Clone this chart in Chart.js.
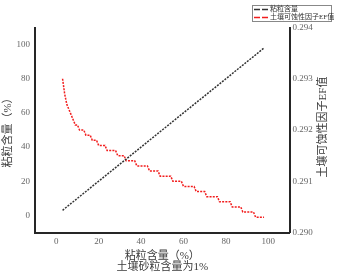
<!DOCTYPE html>
<html><head><meta charset="utf-8">
<script src="https://cdn.jsdelivr.net/npm/chart.js@4/dist/chart.umd.min.js"></script>
<style>html,body{margin:0;padding:0;background:#fff;}#wrap{position:relative;width:337px;height:276px;}</style>
</head><body><div id="wrap"><canvas id="c" width="337" height="276"></canvas></div>
<script>
const clayContent = [3,4,5,6,7,8,9,10,11,12,13,14,15,16,17,18,19,20,21,22,23,24,25,26,27,28,29,30,31,32,33,34,35,36,37,38,39,40,41,42,43,44,45,46,47,48,49,50,51,52,53,54,55,56,57,58,59,60,61,62,63,64,65,66,67,68,69,70,71,72,73,74,75,76,77,78,79,80,81,82,83,84,85,86,87,88,89,90,91,92,93,94,95,96,97,98];
const efValues = [0.2930,0.2927,0.2925,0.2924,0.2923,0.2922,0.2921,0.2921,0.2920,0.2920,0.2920,0.2919,0.2919,0.2919,0.2918,0.2918,0.2918,0.2917,0.2917,0.2917,0.2917,0.2916,0.2916,0.2916,0.2916,0.2916,0.2915,0.2915,0.2915,0.2915,0.2914,0.2914,0.2914,0.2914,0.2914,0.2913,0.2913,0.2913,0.2913,0.2913,0.2913,0.2912,0.2912,0.2912,0.2912,0.2912,0.2911,0.2911,0.2911,0.2911,0.2911,0.2911,0.2910,0.2910,0.2910,0.2910,0.2910,0.2909,0.2909,0.2909,0.2909,0.2909,0.2909,0.2908,0.2908,0.2908,0.2908,0.2908,0.2907,0.2907,0.2907,0.2907,0.2907,0.2907,0.2906,0.2906,0.2906,0.2906,0.2906,0.2906,0.2905,0.2905,0.2905,0.2905,0.2905,0.2904,0.2904,0.2904,0.2904,0.2904,0.2904,0.2903,0.2903,0.2903,0.2903,0.2903];
const xTicks = [0,20,40,60,80,100];
const leftTicks = [0,20,40,60,80,100];
const rightTicks = [0.290,0.291,0.292,0.293,0.294];
const seriesNames = ['粘粒含量','土壤可蚀性因子EF值'];
const xTitle = ['粘粒含量（%）','土壤砂粒含量为1%'];
const leftTitle = '粘粒含量（%）';
const rightTitle = '土壤可蚀性因子EF值';

const FONT = "'Liberation Serif','Noto Sans CJK SC',serif";
const tickColor = '#666';
const titleColor = '#3a3a3a';
const axisColor = '#262626';

const legendPlugin = {
  id: 'boxLegend',
  afterDraw(chart) {
    const ctx = chart.ctx;
    ctx.save();
    ctx.fillStyle = '#fff';
    ctx.fillRect(252, 5, 79.5, 16);
    ctx.strokeStyle = '#888';
    ctx.lineWidth = 1;
    ctx.setLineDash([]);
    ctx.strokeRect(252.5, 5.5, 79, 16);
    chart.data.datasets.forEach((ds, i) => {
      const y = 9.5 + i * 8;
      ctx.strokeStyle = ds.borderColor;
      ctx.lineWidth = 1.6;
      ctx.setLineDash([6, 2]);
      ctx.beginPath(); ctx.moveTo(254, y); ctx.lineTo(268, y); ctx.stroke();
      ctx.setLineDash([]);
      ctx.fillStyle = '#333';
      ctx.font = "7px 'Liberation Serif','Noto Sans CJK SC'";
      ctx.textBaseline = 'middle';
      ctx.textAlign = 'left';
      ctx.fillText(ds.label, 270, y);
    });
    ctx.restore();
  }
};

const rightTitlePlugin = {
  id: 'rightTitle',
  afterDraw(chart) {
    const ctx = chart.ctx;
    ctx.save();
    ctx.translate(323.5, 127);
    ctx.rotate(-Math.PI / 2);
    ctx.fillStyle = titleColor;
    ctx.font = "11px " + FONT;
    ctx.textAlign = 'center';
    ctx.textBaseline = 'middle';
    ctx.fillText(rightTitle, 0, 0);
    ctx.restore();
  }
};

new Chart(document.getElementById('c'), {
  type: 'line',
  data: {
    datasets: [
      {
        label: seriesNames[0],
        data: clayContent.map(c => ({x: c, y: c})),
        yAxisID: 'y',
        borderColor: '#333333',
        borderWidth: 1.5,
        borderDash: [2, 1.2],
        pointRadius: 0,
        fill: false,
        tension: 0
      },
      {
        label: seriesNames[1],
        data: clayContent.map((c, i) => ({x: c, y: efValues[i]})),
        yAxisID: 'y1',
        borderColor: '#f21d1d',
        borderWidth: 1.5,
        borderDash: [2, 1.2],
        pointRadius: 0,
        fill: false,
        tension: 0
      }
    ]
  },
  options: {
    responsive: false,
    animation: false,
    devicePixelRatio: 1,
    layout: {padding: {top: 27.5, left: 0, right: 0, bottom: 0}},
    plugins: {legend: {display: false}, tooltip: {enabled: false}, title: {display: false}},
    scales: {
      x: {
        type: 'linear', position: 'bottom', min: -10, max: 110,
        afterBuildTicks: s => { s.ticks = xTicks.map(v => ({value: v})); },
        afterFit: s => { s.height = 43.5; },
        grid: {display: false, drawTicks: false},
        border: {display: true, color: axisColor, width: 2},
        ticks: {color: tickColor, font: {family: FONT, size: 9}, padding: 4, maxRotation: 0},
        title: {display: true, text: xTitle, color: titleColor, font: {family: FONT, size: 11, lineHeight: 1.05}, padding: {top: 0, bottom: 3}}
      },
      y: {
        type: 'linear', position: 'left', min: -10, max: 110,
        afterBuildTicks: s => { s.ticks = leftTicks.map(v => ({value: v})); },
        afterFit: s => { s.width = 35; },
        grid: {display: false, drawTicks: false},
        border: {display: true, color: axisColor, width: 2},
        ticks: {color: tickColor, font: {family: FONT, size: 9}, padding: 5},
        title: {display: true, text: leftTitle, color: titleColor, font: {family: FONT, size: 11, lineHeight: 1.2}, padding: {top: 2, bottom: 0}}
      },
      y1: {
        type: 'linear', position: 'right', min: 0.290, max: 0.294,
        afterBuildTicks: s => { s.ticks = rightTicks.map(v => ({value: v})); },
        afterFit: s => { s.width = 47.5; },
        grid: {display: false, drawTicks: false},
        border: {display: true, color: axisColor, width: 2},
        ticks: {color: tickColor, font: {family: FONT, size: 9}, padding: 3, callback: v => v.toFixed(3)}
      }
    }
  },
  plugins: [legendPlugin, rightTitlePlugin]
});
</script></body></html>
